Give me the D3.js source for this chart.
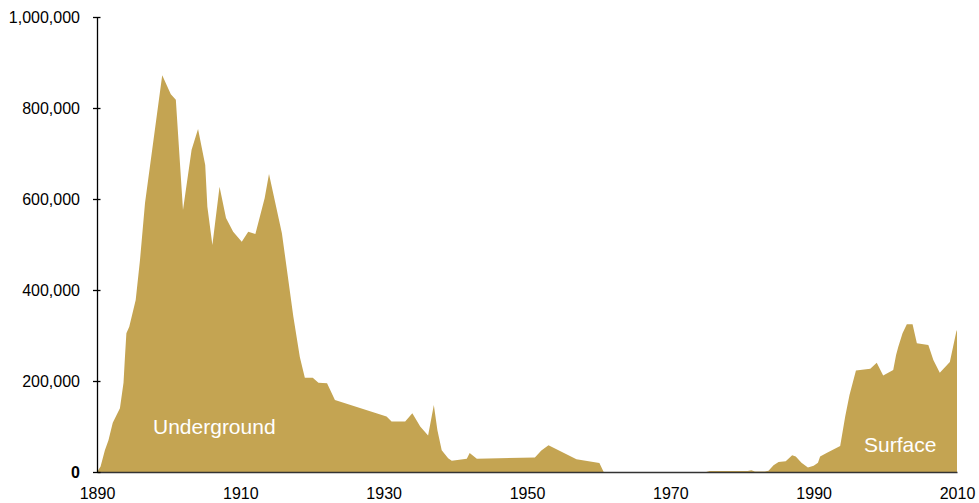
<!DOCTYPE html>
<html>
<head>
<meta charset="utf-8">
<script src="https://cdn.jsdelivr.net/npm/d3@7"></script>
<style>
  body { margin: 0; background: #fff; }
  text { font-family: "Liberation Sans", Arial, sans-serif; }
</style>
</head>
<body>
<div id="chart"></div>
<script>
// underground production
var undergroundYears = [1890, 1890.5, 1891.1, 1891.6, 1892.2, 1893.2, 1893.7, 1893.9, 1894.1, 1894.5, 1895.4, 1896.0, 1896.7, 1899.1, 1900.3, 1901.0, 1902.0, 1903.2, 1904.1, 1905.1, 1905.4, 1906.1, 1907.1, 1908.0, 1909.0, 1910.2, 1911.1, 1912.1, 1913.4, 1914.0, 1915.8, 1917.4, 1918.3, 1919.0, 1920.1, 1920.9, 1922.1, 1923.2, 1930.4, 1931.1, 1933.0, 1934.0, 1935.1, 1936.2, 1937.0, 1937.5, 1938.1, 1939.0, 1939.5, 1941.6, 1942.0, 1943.0, 1951.1, 1952.0, 1953.0, 1956.9, 1960.1, 1960.7];
var undergroundValues = [0, 12000, 48000, 70000, 108000, 140000, 196000, 253000, 305000, 319000, 378000, 466000, 591000, 872000, 830000, 818000, 576000, 708000, 754000, 675000, 583000, 499000, 627000, 558000, 528000, 506000, 528000, 523000, 602000, 655000, 525000, 341000, 253000, 207000, 207000, 196000, 195000, 158000, 122000, 111000, 111000, 129000, 100000, 80000, 147000, 92000, 48000, 30000, 25000, 29000, 42000, 29000, 32000, 47000, 59000, 28000, 20000, 0];

// surface production
var surfaceYears = [1975.0, 1975.5, 1980.8, 1981.3, 1981.8, 1983.2, 1983.7, 1984.4, 1985.1, 1986.1, 1987.0, 1987.5, 1988.3, 1989.2, 1990.0, 1990.6, 1990.9, 1991.8, 1993.7, 1994.4, 1995.0, 1995.9, 1997.9, 1998.8, 1999.7, 2001.1, 2001.5, 2001.8, 2002.4, 2003.0, 2003.8, 2004.4, 2006.0, 2006.7, 2007.6, 2009.0, 2009.9, 2010];
var surfaceValues = [0, 2000, 2000, 4000, 1000, 1000, 3000, 15000, 22000, 23500, 37000, 34000, 20500, 10000, 14000, 20500, 34000, 42000, 57000, 122000, 169000, 223000, 227000, 240000, 212000, 224000, 257000, 275000, 305000, 325000, 325000, 283000, 279000, 246000, 218000, 242000, 308000, 312000];

var xTicks = [1890, 1910, 1930, 1950, 1970, 1990, 2010];
var yTicks = [0, 200000, 400000, 600000, 800000, 1000000];

var margin = {top: 17, right: 22, bottom: 31, left: 97},
    width = 979 - margin.left - margin.right,
    height = 503 - margin.top - margin.bottom;

var svg = d3.select("#chart")
  .append("svg")
    .attr("width", 979)
    .attr("height", 503)
  .append("g")
    .attr("transform", "translate(" + margin.left + "," + margin.top + ")");

var x = d3.scaleLinear().domain([1890, 2010]).range([0, width]);
var y = d3.scaleLinear().domain([0, 1000000]).range([height, 0]);

var area = d3.area()
  .x(d => x(d[0]))
  .y0(y(0))
  .y1(d => y(d[1]));

var fill = "#c4a452";

svg.append("path")
  .datum(d3.zip(undergroundYears, undergroundValues))
  .attr("d", area)
  .style("fill", fill);

svg.append("path")
  .datum(d3.zip(surfaceYears, surfaceValues))
  .attr("d", area)
  .style("fill", fill);

// labels inside the areas
svg.append("text")
  .attr("x", 56).attr("y", 417)
  .style("font-size", "21px").style("fill", "#fff")
  .text("Underground");

svg.append("text")
  .attr("x", 767).attr("y", 435)
  .style("font-size", "21px").style("fill", "#fff")
  .text("Surface");

// X axis
var xAxis = svg.append("g")
  .attr("transform", "translate(0," + height + ")")
  .call(d3.axisBottom(x).tickValues(xTicks).tickFormat(d3.format("d")).tickSize(0).tickPadding(16));
xAxis.select(".domain").attr("stroke", "#333").attr("stroke-width", 1.5);
xAxis.selectAll("text").style("font-size", "16px").style("font-family", "Liberation Sans, Arial, sans-serif").attr("fill", "#000");

// Y axis
var yAxis = svg.append("g")
  .call(d3.axisLeft(y).tickValues(yTicks).tickFormat(d3.format(",")).tickSize(0).tickSizeOuter(0).tickPadding(17));
yAxis.select(".domain").attr("stroke", "#000").attr("stroke-width", 1.3);
yAxis.selectAll(".tick line").attr("x1", -4).attr("x2", 3.5).attr("stroke", "#000").attr("stroke-width", 1.3);
yAxis.selectAll("text").style("font-size", "16px").style("font-family", "Liberation Sans, Arial, sans-serif").attr("fill", "#000")
  .style("font-weight", d => d === 0 ? "bold" : "normal");
</script>
</body>
</html>
